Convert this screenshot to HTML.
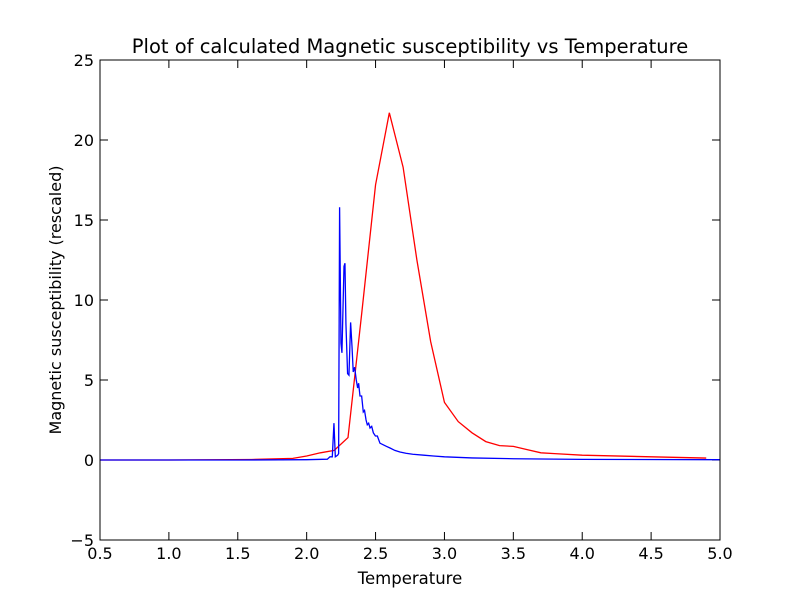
<!DOCTYPE html>
<html><head><meta charset="utf-8"><style>
body{margin:0;background:#fff;}
svg{display:block;font-family:"DejaVu Sans","Liberation Sans",sans-serif;}
</style></head><body>
<svg id="chart" width="800" height="600" viewBox="0 0 800 600" xmlns="http://www.w3.org/2000/svg">
<rect width="800" height="600" fill="#fff"/>
<text x="410" y="53" font-size="19.5" text-anchor="middle">Plot of calculated Magnetic susceptibility vs Temperature</text>
<text x="410" y="584" font-size="16.5" text-anchor="middle">Temperature</text>
<text transform="translate(61,300) rotate(-90)" font-size="16" text-anchor="middle">Magnetic susceptibility (rescaled)</text>
<g id="ticks"></g>
<g id="series"></g>
<rect x="100" y="60" width="620" height="480" fill="none" stroke="#000" stroke-width="1"/>
</svg>
<script>
const xTicks=[0.5,1.0,1.5,2.0,2.5,3.0,3.5,4.0,4.5,5.0];
const xTickLabels=["0.5","1.0","1.5","2.0","2.5","3.0","3.5","4.0","4.5","5.0"];
const yTicks=[-5,0,5,10,15,20,25];
const yTickLabels=["\u22125","0","5","10","15","20","25"];
const redT=[0.5,1.0,1.6,1.9,2.0,2.1,2.2,2.3,2.4,2.5,2.6,2.7,2.8,2.9,3.0,3.1,3.2,3.3,3.4,3.5,3.6,3.7,3.8,4.0,4.5,4.9];
const redChi=[0,0,0.03,0.1,0.25,0.45,0.6,1.4,9.2,17.2,21.7,18.3,12.5,7.4,3.6,2.4,1.7,1.15,0.9,0.85,0.65,0.45,0.4,0.3,0.2,0.12];
const blueT=[0.5,1.5,2.0,2.15,2.169,2.186,2.198,2.208,2.225,2.232,2.239,2.249,2.256,2.271,2.278,2.285,2.297,2.307,2.319,2.329,2.338,2.348,2.36,2.37,2.377,2.387,2.399,2.411,2.42,2.431,2.44,2.45,2.46,2.472,2.484,2.499,2.513,2.532,2.556,2.58,2.605,2.64,2.677,2.72,2.77,2.85,2.92,3.0,3.2,3.5,4.0,5.0];
const blueChi=[0,0,0.02,0.05,0.2,0.2,2.3,0.2,0.3,0.4,15.8,7.3,6.7,12.1,12.3,8.5,5.4,5.3,8.6,7.1,5.5,5.8,5.0,4.5,4.8,4.0,4.0,3.0,3.1,2.5,2.2,2.3,2.0,2.1,1.7,1.5,1.5,1.05,0.95,0.85,0.75,0.6,0.5,0.42,0.36,0.3,0.25,0.2,0.13,0.08,0.04,0.02];
const X=v=>100+(v-0.5)/4.5*620;
const Y=v=>460-v*16;
const NS="http://www.w3.org/2000/svg";
const tg=document.getElementById('ticks');
function mk(tag,attrs,parent){const e=document.createElementNS(NS,tag);for(const k in attrs)e.setAttribute(k,attrs[k]);parent.appendChild(e);return e;}
xTicks.forEach((v,i)=>{const x=X(v);
 const a=mk('line',{x1:x,x2:x,y1:540,y2:532,stroke:'#000'},tg);
 
 
 mk('line',{x1:x,x2:x,y1:60,y2:68,stroke:'#000'},tg);
 const t=mk('text',{x:x,y:559,'font-size':16,'text-anchor':'middle'},tg);t.textContent=xTickLabels[i];
 
 
});
yTicks.forEach((v,i)=>{const y=Y(v);
 const a=mk('line',{x1:100,x2:108,y1:y,y2:y,stroke:'#000'},tg);
 
 
 mk('line',{x1:712,x2:720,y1:y,y2:y,stroke:'#000'},tg);
 const t=mk('text',{x:94,y:y+6,'font-size':16,'text-anchor':'end'},tg);t.textContent=yTickLabels[i];
 
 
});
const sg=document.getElementById('series');
const r=mk('polyline',{points:redT.map((t,i)=>X(t)+','+Y(redChi[i])).join(' '),fill:'none',stroke:'#ff0000','stroke-width':1.3},sg);


const b=mk('polyline',{points:blueT.map((t,i)=>X(t)+','+Y(blueChi[i])).join(' '),fill:'none',stroke:'#0000ff','stroke-width':1.3},sg);


</script>
</body></html>
